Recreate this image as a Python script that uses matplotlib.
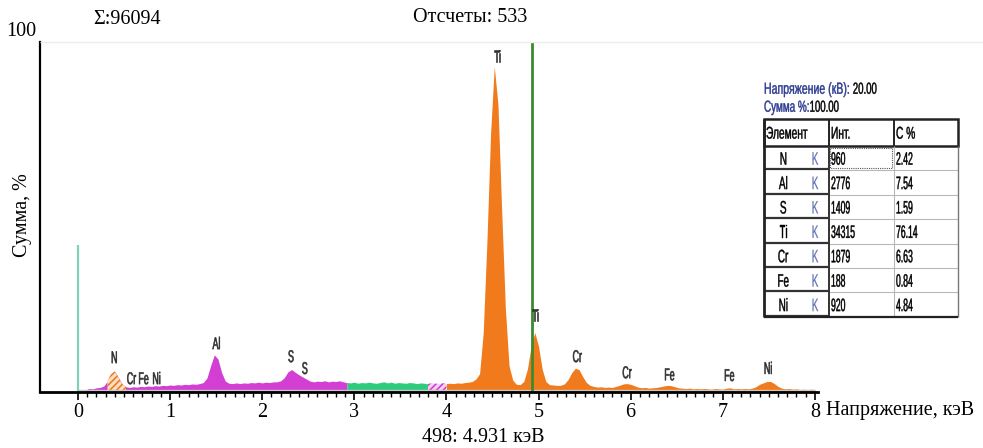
"""EDS spectrum (Ti-based coating) with quantification table."""

import numpy as np
import matplotlib
matplotlib.use("Agg")
import matplotlib.pyplot as plt
from matplotlib.patches import Rectangle, PathPatch
from matplotlib.ticker import FixedLocator
from matplotlib.textpath import TextPath
from matplotlib.font_manager import FontProperties
from matplotlib.transforms import Affine2D

# --- data ----------------------------------------------------------------
# counts in % of full scale, one value per 0.04 keV channel, 0.00 .. 8.00 keV
counts_pct = [
    0.2, 0.3, 0.6, 1.0, 0.9, 1.2, 1.3, 1.7, 3.1, 5.2,         # 0.00-0.36
    5.9, 4.1, 2.3, 1.5, 1.3, 1.5, 1.4, 1.6, 1.5, 1.7,         # 0.40-0.76
    1.6, 1.8, 1.7, 1.9, 1.8, 2.0, 1.9, 2.1, 2.0, 2.2,         # 0.80-1.16
    2.1, 2.3, 2.2, 2.4, 2.7, 4.0, 7.5, 10.6, 9.4, 5.5,        # 1.20-1.56
    3.1, 2.5, 2.4, 2.6, 2.4, 2.6, 2.5, 2.7, 2.6, 2.8,         # 1.60-1.96
    2.6, 2.8, 2.7, 2.9, 2.9, 3.2, 4.1, 5.8, 6.4, 5.6,         # 2.00-2.36
    4.9, 4.3, 3.7, 3.1, 2.9, 3.1, 3.0, 3.2, 2.9, 3.1,         # 2.40-2.76
    3.0, 3.2, 2.9, 2.7, 2.6, 2.8, 2.5, 2.7, 2.6, 2.8,         # 2.80-3.16
    2.6, 2.5, 2.7, 2.9, 2.6, 2.8, 2.5, 2.7, 2.6, 2.5,         # 3.20-3.56
    2.7, 2.6, 2.4, 2.6, 2.5, 2.3, 2.5, 2.4, 2.3, 2.5,         # 3.60-3.96
    2.4, 2.5, 2.4, 2.6, 2.5, 2.7, 2.8, 3.0, 3.7, 5.2,         # 4.00-4.36
    17.0, 43.0, 74.0, 93.0, 82.0, 52.0, 24.0, 7.5, 3.4, 2.2,  # 4.40-4.76
    2.1, 3.0, 6.6, 13.2, 17.0, 13.1, 6.5, 3.0, 2.1, 2.0,      # 4.80-5.16
    1.9, 1.9, 2.3, 3.5, 5.5, 6.8, 6.4, 4.4, 2.7, 1.9,         # 5.20-5.56
    1.6, 1.4, 1.5, 1.3, 1.4, 1.3, 1.6, 1.9, 2.3, 2.4,         # 5.60-5.96
    2.2, 1.8, 1.4, 1.2, 1.3, 1.1, 1.2, 1.3, 1.5, 1.7,         # 6.00-6.36
    1.9, 1.8, 1.5, 1.2, 1.1, 1.0, 1.1, 0.9, 1.0, 0.9,         # 6.40-6.76
    1.0, 0.9, 0.8, 1.0, 0.9, 0.8, 1.1, 1.2, 0.9, 1.0,         # 6.80-7.16
    0.9, 1.0, 0.9, 1.1, 1.5, 2.2, 2.6, 3.0, 3.0, 2.4,         # 7.20-7.56
    1.6, 1.1, 0.9, 1.0, 0.8, 0.9, 0.7, 0.8, 0.7, 0.8,         # 7.60-7.96
    0.7,                                                      # 8.00
]
energy_kev = np.linspace(0.0, 8.0, len(counts_pct))

# colour windows of the spectrum (keV)
roi_start = [0.00, 0.08, 2.92, 3.80, 4.00]
roi_end = [0.08, 2.92, 3.80, 4.00, 8.00]
n_window = (0.32, 0.52)          # hatched N K window

# peak markers
line_names = ["N", "Cr", "Fe", "Ni", "Al", "S", "S", "Ti", "Ti",
              "Cr", "Cr", "Fe", "Fe", "Ni"]
line_kev = [0.39, 0.58, 0.71, 0.85, 1.50, 2.31, 2.46, 4.55, 4.96,
            5.42, 5.96, 6.42, 7.07, 7.49]
label_height = [10.0, 4.0, 4.0, 4.0, 14.0, 10.3, 6.9, 96.0, 22.0,
                10.3, 5.7, 5.1, 4.9, 6.9]

cursor_kev = 4.931
cursor_channel = 498
cursor_counts = 533
total_counts = 96094
zero_peak_kev = 0.0
zero_peak_pct = 42.0

# quantification table
elements = ["N", "Al", "S", "Ti", "Cr", "Fe", "Ni"]
shells = ["K", "K", "K", "K", "K", "K", "K"]
intensity = [960, 2776, 1409, 34315, 1879, 188, 920]
conc_pct = [2.42, 7.54, 1.59, 76.14, 6.63, 0.84, 4.84]
voltage_kv = 20.00
sum_pct = 100.00

# --- styles ----------------------------------------------------------------
roi_color = ["#b5b5b5", "#d23fd2", "#2fcb7c", "#d23fd2", "#f07a1c"]
roi_hatch = [None, None, None, "/////", None]
SERIF = ["Liberation Serif", "DejaVu Serif"]
NARROW_PROP = FontProperties(family=["Liberation Sans", "DejaVu Sans"])
plt.rcParams["hatch.linewidth"] = 1.2

W, H = 983, 448
fig = plt.figure(figsize=(W / 100, H / 100), dpi=100)

# plot area in pixels: x 40..818, y 42..392 ; 0 keV at x=78, 92.1 px/keV
x0_px, px_per_kev = 78, 92.1
ax = fig.add_axes([40 / W, (H - 392) / H, (818 - 40) / W, 350 / H])
ax.set_xlim((40 - x0_px) / px_per_kev, (818 - x0_px) / px_per_kev)
ax.set_ylim(0, 100)

y = np.array(counts_pct)
for s, e, c, h in zip(roi_start, roi_end, roi_color, roi_hatch):
    m = (energy_kev >= s - 1e-9) & (energy_kev <= e + 1e-9)
    if h:
        ax.fill_between(energy_kev[m], 0, y[m], facecolor="#f4d2f4",
                        edgecolor=c, hatch=h, lw=0)
    else:
        ax.fill_between(energy_kev[m], 0, y[m], color=c, lw=0)
m = (energy_kev >= n_window[0] - 1e-9) & (energy_kev <= n_window[1] + 1e-9)
ax.fill_between(energy_kev[m], 0, y[m], facecolor="#fbe0c8",
                edgecolor="#f07a1c", hatch="/////", lw=0)
ax.hlines(0.5, energy_kev[0], energy_kev[-1], color="#c8c8c8", lw=1)

ax.vlines(zero_peak_kev, 0, zero_peak_pct, color="#7fd3bd", lw=1.6)
ax.vlines(cursor_kev, 0, 100, color="#3c8a30", lw=2)

for side in ["top", "right"]:
    ax.spines[side].set_visible(False)
ax.spines["left"].set_linewidth(1.6)
ax.spines["bottom"].set_linewidth(2)
ax.set_yticks([])
ax.xaxis.set_major_locator(FixedLocator(range(9)))
ax.xaxis.set_minor_locator(FixedLocator(np.arange(0, 8.01, 0.1)))
ax.tick_params(axis="x", which="major", length=6, width=1.2, pad=2,
               labelsize=14.5)
ax.tick_params(axis="x", which="minor", length=3.5, width=1)
for lbl in ax.get_xticklabels():
    lbl.set_family(SERIF)

# --- overlay in pixel coordinates (y points down) ---------------------------
ov = fig.add_axes([0, 0, 1, 1], zorder=5)
ov.set_xlim(0, W)
ov.set_ylim(H, 0)
ov.axis("off")
ov.patch.set_alpha(0)


def narrow_text(x, y, s, size=15, squeeze=0.6, ha="left", color="black",
                weight=0.3):
    """Condensed (squeezed) text like the instrument's screen font."""
    tp = TextPath((0, 0), s, size=size, prop=NARROW_PROP)
    w = tp.get_extents().x1 * squeeze
    dx = {"left": 0, "center": -w / 2, "right": -w}[ha]
    tr = Affine2D().scale(squeeze, -1).translate(x + dx, y + 0.36 * size)
    ov.add_patch(PathPatch(tp, transform=tr + ov.transData, fc=color,
                           ec=color, lw=weight))
    return x + dx + w


# peak labels, placed through the spectrum axes' data transform
for name, xk, yh in zip(line_names, line_kev, label_height):
    px, py = ax.transData.transform((xk, yh))
    narrow_text(px, H - py, name, size=17, squeeze=0.52, ha="center",
                color="#333333", weight=0.45)

ov.hlines(42, 40, W, color="#ececec", lw=1, zorder=0)
ov.text(36, 31, "100", ha="right", va="center", fontsize=14.5, family=SERIF)
ov.text(93, 20, f"Σ:{total_counts}", ha="left", va="center",
        fontsize=14.5, family=SERIF)
ov.text(470, 18, f"Отсчеты: {cursor_counts}", ha="center", va="center",
        fontsize=14.5, family=SERIF)
ov.text(22, 215, "Сумма, %", rotation=90, ha="center", va="center",
        fontsize=14.5, family=SERIF)
ov.text(826, 411, "Напряжение, кэВ", ha="left", va="center",
        fontsize=14.5, family=SERIF)
ov.text(483, 437, f"{cursor_channel}: {cursor_kev:.3f} кэВ", ha="center",
        va="center", fontsize=14.5, family=SERIF)

# table header info
navy = "#2b3a8f"
xe = narrow_text(764, 88, "Напряжение (кВ):", size=16, squeeze=0.66,
                 color=navy)
narrow_text(xe + 4, 88, f"{voltage_kv:.2f}", size=16, squeeze=0.6)
xe = narrow_text(764, 106, "Сумма %:", size=16, squeeze=0.62, color=navy)
narrow_text(xe + 1, 106, f"{sum_pct:.2f}", size=16, squeeze=0.6)

tx = [764, 829, 894, 958]
top, hdr_bot, row_h = 119, 146, 24.4
dark, grey = "#222222", "#b8b8b8"
ov.add_patch(Rectangle((tx[0], top), tx[3] - tx[0], hdr_bot - top,
                       fill=False, ec=dark, lw=1.8))
ov.vlines(tx[1:3], top, hdr_bot, color=dark, lw=1.4)
for x, txt in zip(tx[:3], ["Элемент", "Инт.", "С %"]):
    narrow_text(x + 2, (top + hdr_bot) / 2, txt, size=17, squeeze=0.6)

bottom = hdr_bot + row_h * len(elements)
for i, (el, sh, it, cp) in enumerate(zip(elements, shells, intensity,
                                          conc_pct)):
    y0 = hdr_bot + i * row_h
    y1 = y0 + row_h
    yc = (y0 + y1) / 2
    ov.hlines(y1 - 1, tx[0], tx[1], color="#333333", lw=1.6)
    ov.hlines(y1, tx[1], tx[3], color=grey, lw=0.8)
    narrow_text(783, yc, el, size=18, squeeze=0.55, ha="center")
    narrow_text(815, yc, sh, size=18, squeeze=0.55, ha="center",
                color="#6070b0", weight=0.15)
    narrow_text(tx[1] + 2, yc, f"{it}", size=18, squeeze=0.48)
    narrow_text(tx[2] + 2, yc, f"{cp:.2f}", size=18, squeeze=0.48)
ov.vlines(tx[0], top, bottom, color=dark, lw=2)
ov.vlines(tx[1], hdr_bot, bottom, color="#333333", lw=1.4)
ov.vlines(tx[2], hdr_bot, bottom, color=grey, lw=0.8)
ov.vlines(tx[3], hdr_bot, bottom, color="#777777", lw=1)
ov.hlines(bottom, tx[0], tx[3], color=dark, lw=1.6)
ov.add_patch(Rectangle((tx[1] + 1, hdr_bot + 2), tx[2] - tx[1] - 3,
                       row_h - 4, fill=False, ec="#555555", lw=0.8,
                       ls=(0, (1, 1))))

fig.savefig("out.png", dpi=100)
